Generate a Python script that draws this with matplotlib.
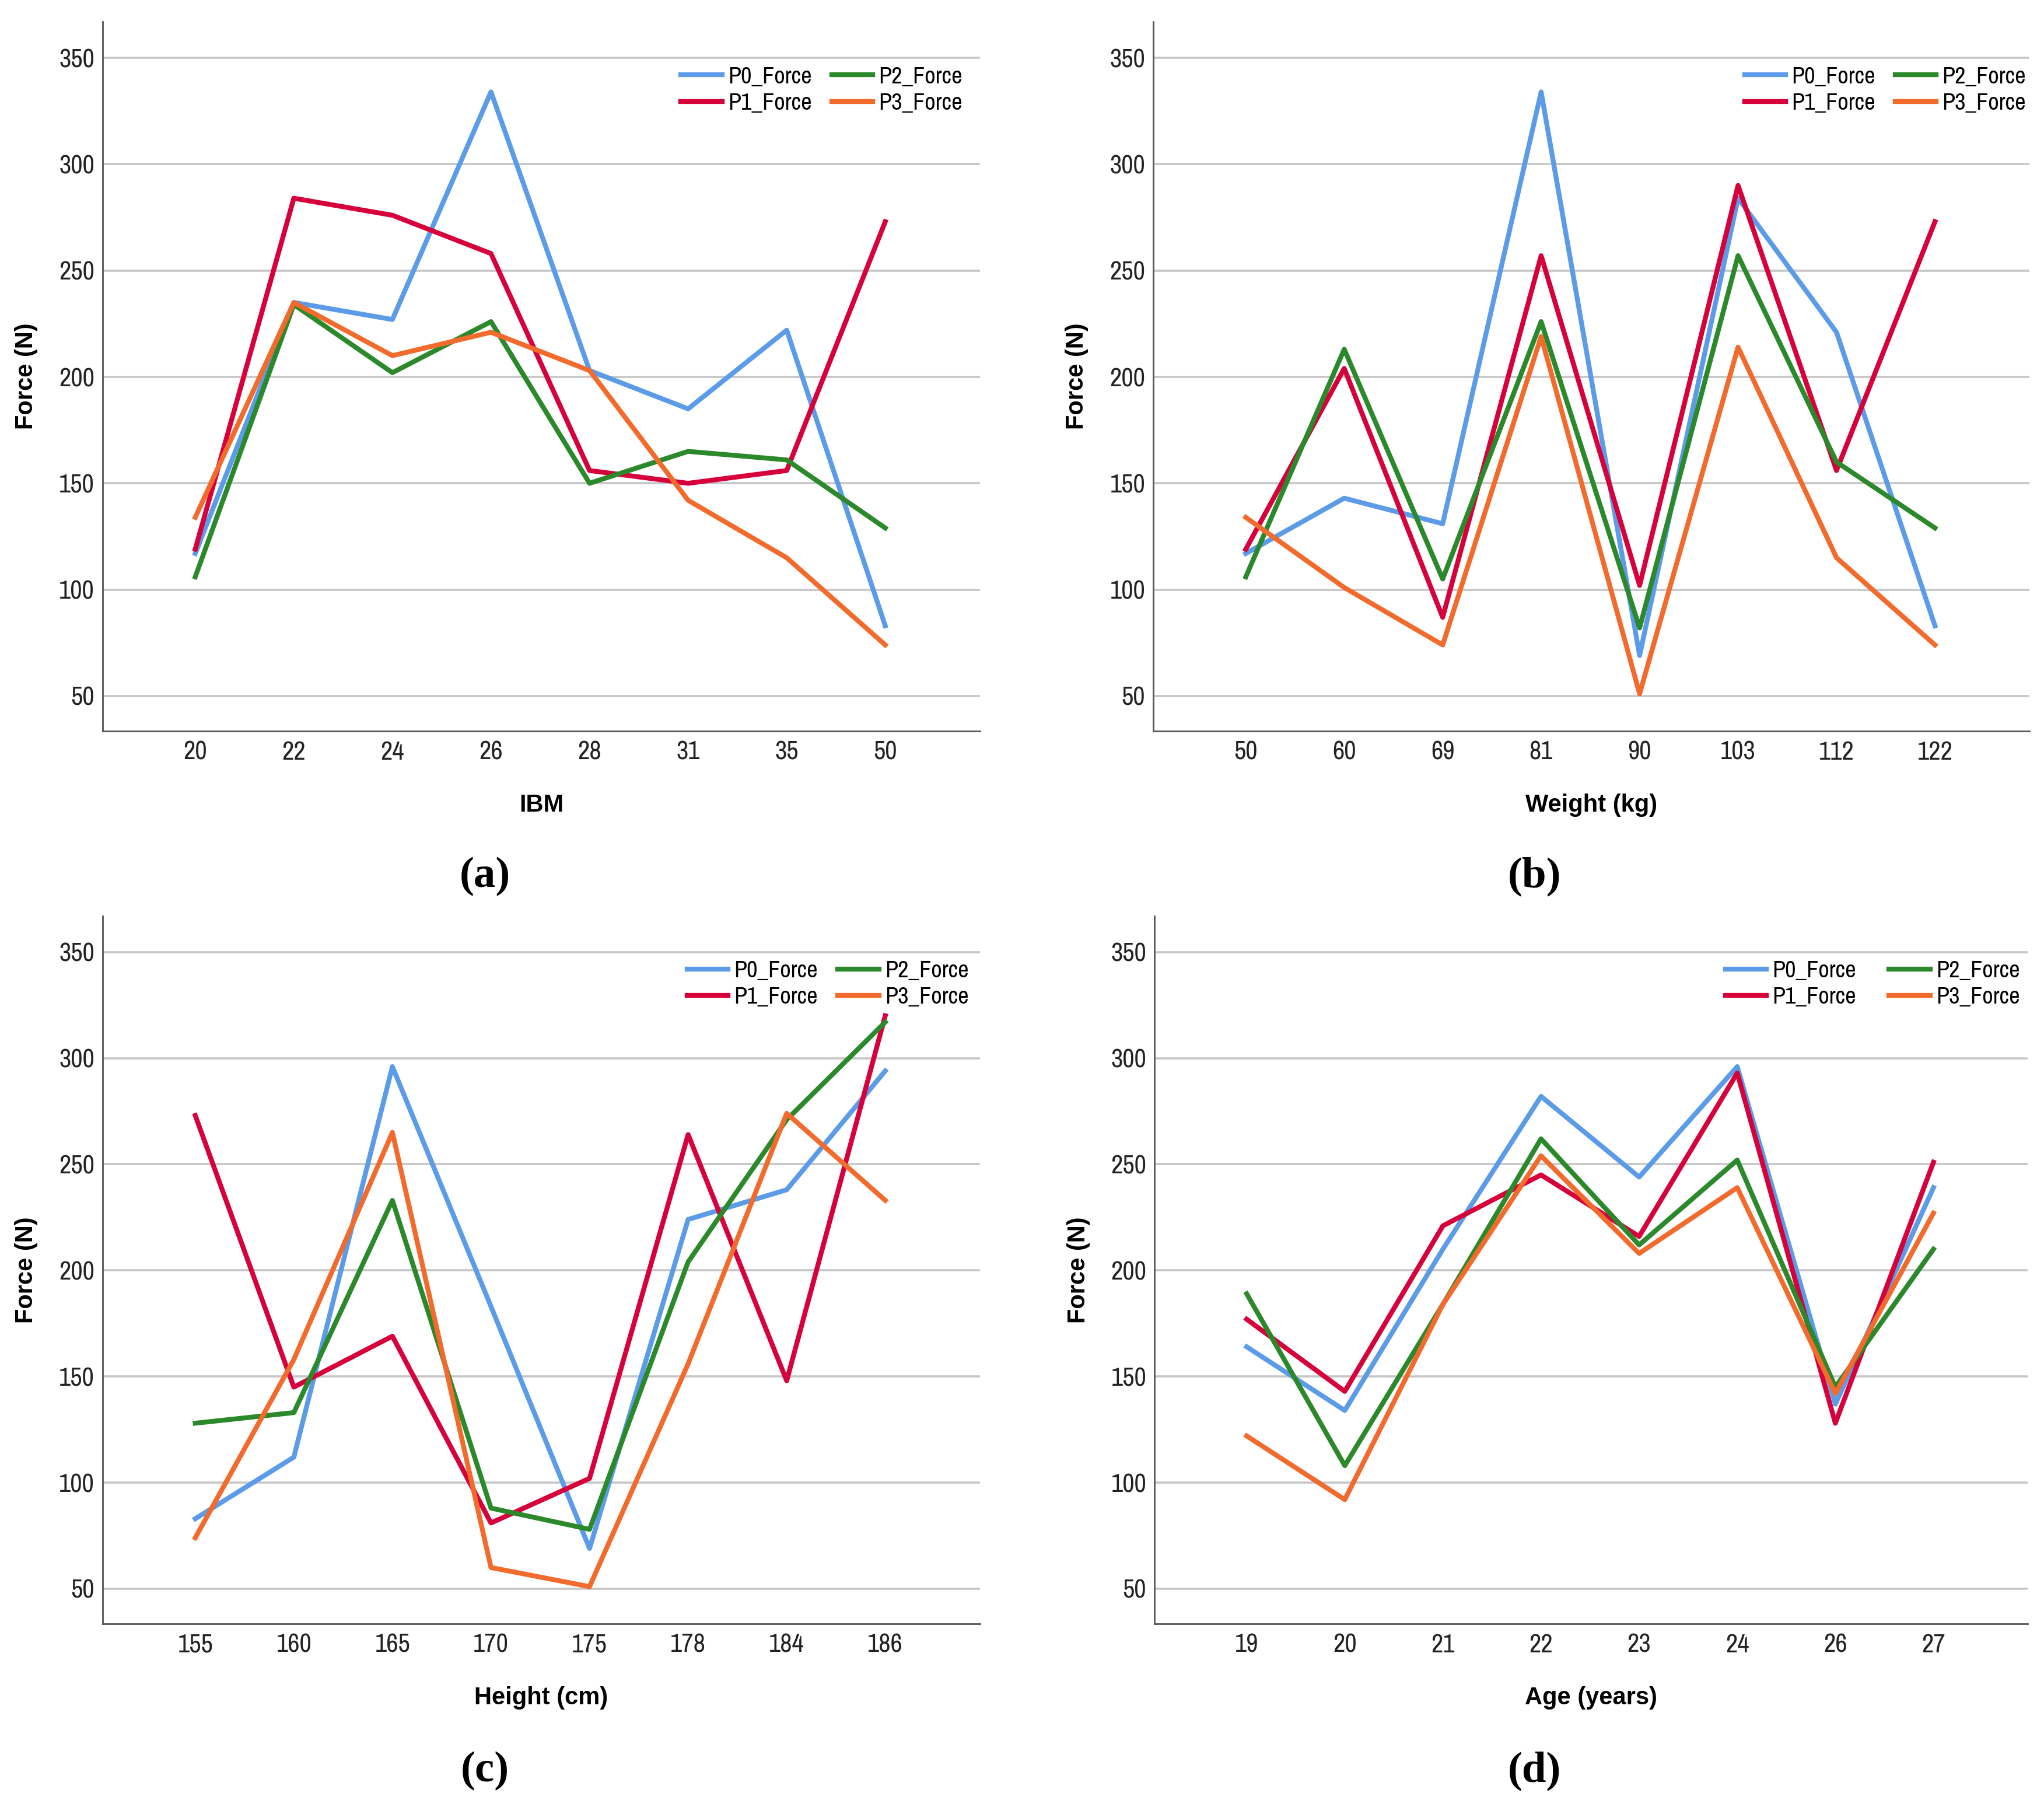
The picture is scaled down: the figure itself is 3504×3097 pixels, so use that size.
import matplotlib
matplotlib.use("Agg")
import matplotlib.pyplot as plt
from matplotlib import font_manager

# x categories for each panel
ibm = ["20", "22", "24", "26", "28", "31", "35", "50"]
weight = ["50", "60", "69", "81", "90", "103", "112", "122"]
height = ["155", "160", "165", "170", "175", "178", "184", "186"]
age = ["19", "20", "21", "22", "23", "24", "26", "27"]

# forces (N)
p0_ibm = [117, 235, 227, 334, 203, 185, 222, 83]
p1_ibm = [119, 284, 276, 258, 156, 150, 156, 273]
p2_ibm = [106, 234, 202, 226, 150, 165, 161, 129]
p3_ibm = [134, 235, 210, 221, 203, 142, 115, 74]

p0_weight = [117, 143, 131, 334, 69, 284, 221, 83]
p1_weight = [119, 204, 87, 257, 102, 290, 156, 273]
p2_weight = [106, 213, 105, 226, 82, 257, 160, 129]
p3_weight = [134, 101, 74, 219, 51, 214, 115, 74]

p0_height = [83, 112, 296, 183, 69, 224, 238, 294]
p1_height = [273, 145, 169, 81, 102, 264, 148, 320]
p2_height = [128, 133, 233, 88, 78, 204, 271, 317]
p3_height = [74, 158, 265, 60, 51, 156, 274, 233]

p0_age = [164, 134, 210, 282, 244, 296, 137, 239]
p1_age = [177, 143, 221, 245, 216, 293, 128, 251]
p2_age = [189, 108, 184, 262, 212, 252, 145, 210]
p3_age = [122, 92, 184, 254, 208, 239, 142, 227]

series_names = ["P0_Force", "P1_Force", "P2_Force", "P3_Force"]
colors = ["#5b9be8", "#d6003a", "#2b892b", "#f26a2c"]

panels = [
    (ibm, [p0_ibm, p1_ibm, p2_ibm, p3_ibm], "IBM", "(a)"),
    (weight, [p0_weight, p1_weight, p2_weight, p3_weight], "Weight (kg)", "(b)"),
    (height, [p0_height, p1_height, p2_height, p3_height], "Height (cm)", "(c)"),
    (age, [p0_age, p1_age, p2_age, p3_age], "Age (years)", "(d)"),
]

# axes rectangles (figure fraction) and legend anchors
rects = [
    [0.0502, 0.5954, 0.4292, 0.3926],
    [0.5642, 0.5954, 0.4287, 0.3926],
    [0.0502, 0.1014, 0.4292, 0.3917],
    [0.5648, 0.1014, 0.4272, 0.3917],
]
leg_x = [0.980, 0.996, 0.987, 0.991]
col_space = [0.85, 0.85, 0.85, 1.4]
tag_pos = [(0.2372, 0.515), (0.7506, 0.515), (0.2372, 0.020), (0.7506, 0.020)]

# SPSS uses a narrow sans for ticks; take a condensed face if one is there
installed = sorted({f.name for f in font_manager.fontManager.ttflist})
narrow = [n for n in installed if "Narrow" in n or "Condensed" in n]
tick_font = (narrow[:1] or ["Liberation Sans"]) + ["DejaVu Sans"]
tick_size = 16 if narrow else 14
legend_size = 14.5 if narrow else 13
label_font = ["Liberation Sans", "DejaVu Sans"]

fig = plt.figure(figsize=(17.52, 15.485), dpi=200)

for i, (cats, ys, xlabel, tag) in enumerate(panels):
    ax = fig.add_axes(rects[i])
    x = list(range(len(cats)))
    for name, vals, c in zip(series_names, ys, colors):
        ax.plot(x, vals, color=c, lw=3.0, label=name)
    ax.set_xlim(-0.94, 7.96)
    ax.set_ylim(33.5, 367)
    ax.set_xticks(x)
    ax.set_xticklabels(cats, family=tick_font, fontsize=tick_size)
    ax.set_yticks([50, 100, 150, 200, 250, 300, 350])
    ax.set_yticklabels(["50", "100", "150", "200", "250", "300", "350"],
                       family=tick_font, fontsize=tick_size)
    ax.tick_params(length=0, pad=6, colors="#222222")
    ax.tick_params(axis="y", pad=5)
    ax.grid(axis="y", color="#c6c6c6", lw=1.3)
    ax.set_axisbelow(True)
    for s in ["top", "right"]:
        ax.spines[s].set_visible(False)
    for s in ["left", "bottom"]:
        ax.spines[s].set_color("#555555")
        ax.spines[s].set_linewidth(1.0)
    ax.set_xlabel(xlabel, family=label_font, fontweight="bold", fontsize=15,
                  labelpad=18)
    ax.set_ylabel("Force (N)", family=label_font, fontweight="bold", fontsize=15,
                  va="center")
    ax.yaxis.set_label_coords(-0.087, 0.5)
    ax.legend(ncol=2, loc="upper right", bbox_to_anchor=(leg_x[i], 0.938),
              frameon=False, prop={"family": tick_font, "size": legend_size},
              handlelength=1.75, handletextpad=0.25, columnspacing=col_space[i],
              labelspacing=0.2, borderpad=0, borderaxespad=0)
    fig.text(tag_pos[i][0], tag_pos[i][1], tag, ha="center", va="center",
             family=["Liberation Serif", "DejaVu Serif"], fontweight="bold",
             fontsize=27)

fig.savefig("out.png", dpi=200, facecolor="white")
